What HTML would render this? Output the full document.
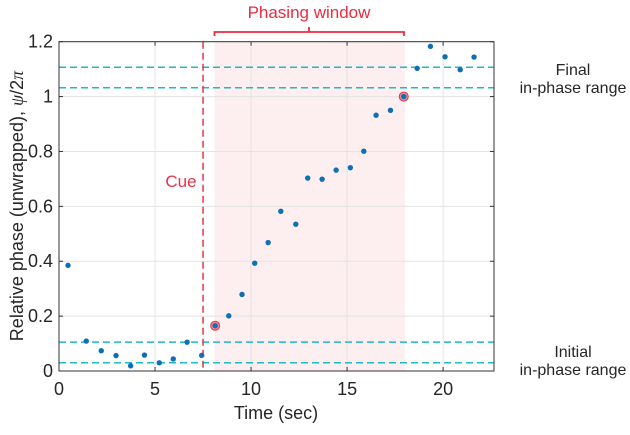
<!DOCTYPE html>
<html><head><meta charset="utf-8"><style>
body{margin:0;background:#fff;position:relative}
svg text{font-family:"Liberation Sans",sans-serif}
</style></head><body>
<svg id="chart" width="630" height="430" viewBox="0 0 630 430">
<g id="bg"></g><g id="grid"></g><g id="marks"></g><g id="axes"></g>
</svg>
<script>
const timesSec=[0.47,1.42,2.2,2.97,3.73,4.45,5.22,5.95,6.67,7.43,8.13,8.84,9.53,10.19,10.89,11.55,12.33,12.95,13.7,14.43,15.17,15.87,16.51,17.26,17.95,18.65,19.34,20.1,20.89,21.61];
const phaseValues=[0.385,0.109,0.074,0.056,0.019,0.058,0.030,0.044,0.105,0.057,0.165,0.201,0.279,0.393,0.468,0.582,0.535,0.703,0.699,0.732,0.741,0.801,0.932,0.950,1.0,1.103,1.183,1.145,1.098,1.144];
const highlightedIdx=[10,24];
const rangeLines=[0.03,0.105,1.032,1.107];
const xTicks=[0,5,10,15,20];
const yTicks=[0,0.2,0.4,0.6,0.8,1,1.2];
const yTickLabels=["0","0.2","0.4","0.6","0.8","1","1.2"];
const cueTime=7.5;
const windowRange=[8.1,18];
const X0=59,X1=494,Y0=371,Y1=41.7,XMAX=22.65,YMAX=1.2;
const sx=v=>X0+v/XMAX*(X1-X0);
const sy=v=>Y0-v/YMAX*(Y0-Y1);
const NS="http://www.w3.org/2000/svg";
function mk(parent,tag,attrs,text){const e=document.createElementNS(NS,tag);for(const k in attrs)e.setAttribute(k,attrs[k]);if(text!==undefined)e.textContent=text;document.getElementById(parent).appendChild(e);return e;}
let e;
e=mk('bg','rect',{x:sx(windowRange[0]),y:Y1,width:sx(windowRange[1])-sx(windowRange[0]),height:Y0-Y1,fill:'#fdeef0'});


xTicks.forEach(t=>{e=mk('grid','line',{x1:sx(t),x2:sx(t),y1:Y1,y2:Y0,stroke:'#e3e3e3','stroke-width':1});

});
yTicks.forEach(t=>{e=mk('grid','line',{x1:X0,x2:X1,y1:sy(t),y2:sy(t),stroke:'#e3e3e3','stroke-width':1});

});
rangeLines.forEach(v=>{e=mk('marks','line',{x1:X0,x2:X1,y1:sy(v),y2:sy(v),stroke:'#1fb8c8','stroke-width':1.5,'stroke-dasharray':'7,4'});

});
e=mk('marks','line',{x1:sx(cueTime),x2:sx(cueTime),y1:Y1,y2:Y0,stroke:'#e8334a','stroke-width':1.5,'stroke-dasharray':'7,4'});


highlightedIdx.forEach(i=>{e=mk('marks','circle',{cx:sx(timesSec[i]),cy:sy(phaseValues[i]),r:4.5,fill:'#f08a96',stroke:'#e8334a','stroke-width':1});

});
timesSec.forEach((t,i)=>{e=mk('marks','circle',{cx:sx(t),cy:sy(phaseValues[i]),r:2.7,fill:'#0f6fb5'});

});
e=mk('axes','rect',{x:X0,y:Y1,width:X1-X0,height:Y0-Y1,fill:'none',stroke:'#333','stroke-width':1});


xTicks.forEach(t=>{mk('axes','line',{x1:sx(t),x2:sx(t),y1:Y0,y2:Y0-4,stroke:'#333'});mk('axes','line',{x1:sx(t),x2:sx(t),y1:Y1,y2:Y1+4,stroke:'#333'});
e=mk('axes','text',{x:sx(t),y:Y0+24,'text-anchor':'middle','font-size':18,fill:'#262626'},String(t));

});
yTicks.forEach((t,i)=>{mk('axes','line',{x1:X0,x2:X0+4,y1:sy(t),y2:sy(t),stroke:'#333'});mk('axes','line',{x1:X1,x2:X1-4,y1:sy(t),y2:sy(t),stroke:'#333'});
e=mk('axes','text',{x:X0-6,y:sy(t)+6,'text-anchor':'end','font-size':18,fill:'#262626'},yTickLabels[i]);

});
</script>
<svg width="630" height="430" style="position:absolute;left:0;top:0">
<text x="276" y="419" text-anchor="middle" font-size="18" fill="#262626">Time (sec)</text>
<text transform="translate(23,206) rotate(-90)" text-anchor="middle" font-size="18" fill="#262626">Relative phase (unwrapped), <tspan font-family="Liberation Serif" font-style="italic">ψ</tspan>/2<tspan font-family="Liberation Serif" font-style="italic">π</tspan></text>
<text x="181" y="187" text-anchor="middle" font-size="17" fill="#e8334a">Cue</text>
<text x="309" y="18" text-anchor="middle" font-size="17" fill="#ee2a3c">Phasing window</text>
<path d="M214.5,36 V32 H404 V36 M309,32 V27" fill="none" stroke="#ee2a3c" stroke-width="1.8"/>
<text x="573" y="75" text-anchor="middle" font-size="16" fill="#262626">Final</text>
<text x="573" y="93" text-anchor="middle" font-size="16" fill="#262626">in-phase range</text>
<text x="573" y="357" text-anchor="middle" font-size="16" fill="#262626">Initial</text>
<text x="573" y="375" text-anchor="middle" font-size="16" fill="#262626">in-phase range</text>
</svg>
</body></html>
